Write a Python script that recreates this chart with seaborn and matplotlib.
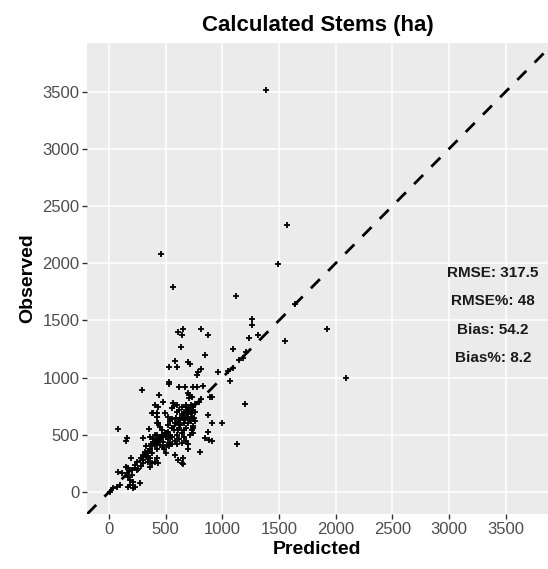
import matplotlib
matplotlib.use("Agg")
import matplotlib.pyplot as plt
import seaborn as sns
import pandas as pd

# ---- data ----
predicted = [
    1385, 1567, 1491, 459, 564, 1120, 1258, 1258, 1235, 1311, 1923, 1555, 1097, 2090, 1067, 1197, 1132,
    1640, 1050, 1090, 1150, 1180, 1210,
    606, 655, 646, 811, 876, 635, 850, 582, 532, 597, 700, 714, 788, 773, 811, 964, 529, 529, 620, 670,
    743, 773, 832, 700, 708, 729, 708, 444, 479, 891, 906, 811, 790, 760, 288, 406, 435, 567, 573, 553,
    382, 391, 420, 494, 426, 435, 876, 906, 994, 420, 450, 523, 553, 729, 744, 714, 876, 847, 885, 906,
    82, 353, 430, 161, 147, 303, 406, 420, 391, 411, 465, 494, 523, 553, 538, 509, 479, 450, 582, 611,
    646, 488, 500, 194, 347, 332, 318, 362, 347, 303, 420, 406, 430, 147, 170, 200, 229, 244, 82, 112,
    156, 170, 200, 185, 214, 185, 229, 273, 170, 214, 9, 38, 68, 97, 376, 362, 700, 803, 655, 650,
    600, 620, 640, 660, 680, 700, 720, 740, 650, 670, 690, 710, 730, 610, 630, 660, 700, 720, 750, 760,
    590, 640, 680, 720, 700, 660, 630, 690, 710, 745, 620, 680, 740, 580, 560, 540, 520, 600, 760, 740,
    360, 390, 420, 450, 480, 500, 520, 540, 560, 580, 600, 620, 640, 660, 680, 700, 600, 640, 560, 500,
    530, 570, 610, 660, 470,
    250, 280, 300, 320, 340, 360, 380, 400, 430, 460, 300, 340, 380, 420, 260, 230, 280, 330, 370, 410,
]
observed = [
    3513, 2336, 1995, 2080, 1792, 1716, 1515, 1462, 1349, 1372, 1425, 1323, 1247, 994, 970, 766, 422,
    1640, 1060, 1085, 1150, 1175, 1220,
    1396, 1425, 1372, 1425, 1372, 1270, 1197, 1145, 1095, 1095, 1139, 1116, 1051, 1022, 1072, 1046, 964, 944, 920, 920,
    920, 920, 926, 868, 848, 833, 819, 848, 789, 828, 833, 815, 790, 770, 892, 760, 746, 775, 752, 732,
    693, 688, 688, 693, 658, 600, 673, 600, 606, 600, 571, 586, 557, 542, 513, 498, 527, 469, 454, 448,
    548, 551, 600, 469, 446, 475, 498, 454, 440, 426, 498, 513, 527, 557, 426, 411, 396, 411, 323, 280,
    251, 373, 338, 295, 338, 309, 323, 295, 265, 280, 295, 265, 251, 221, 207, 192, 207, 192, 172, 169,
    163, 134, 149, 105, 90, 61, 46, 76, 46, 32, 3, 32, 46, 61, 251, 221, 373, 347, 295, 245,
    700, 720, 680, 700, 740, 720, 690, 710, 650, 630, 660, 640, 660, 610, 590, 600, 600, 620, 650, 700,
    650, 740, 760, 760, 680, 670, 650, 700, 730, 740, 560, 560, 580, 600, 640, 620, 660, 760, 620, 560,
    480, 460, 500, 470, 440, 480, 460, 500, 480, 450, 420, 460, 430, 480, 450, 420, 500, 520, 420, 520,
    400, 540, 540, 540, 540,
    260, 300, 320, 350, 360, 380, 400, 430, 450, 480, 250, 300, 340, 380, 200, 240, 230, 400, 420, 410,
]
x_ticks = [0, 500, 1000, 1500, 2000, 2500, 3000, 3500]
y_ticks = [0, 500, 1000, 1500, 2000, 2500, 3000, 3500]
stats_labels = ["RMSE: 317.5", "RMSE%: 48", "Bias: 54.2", "Bias%: 8.2"]
stats_y = [1910, 1670, 1415, 1175]
stats_x = 3385

df = pd.DataFrame({"Predicted": predicted, "Observed": observed})

sns.set_theme(style="darkgrid", rc={
    "axes.facecolor": "#EBEBEB",
    "grid.color": "white",
    "grid.linewidth": 1.1,
    "xtick.bottom": True,
    "ytick.left": True,
})
plt.rcParams["font.family"] = ["Liberation Sans", "DejaVu Sans"]

fig = plt.figure(figsize=(5.48, 5.69), dpi=100)
ax = fig.add_axes([87 / 548, 1 - 514 / 569, (548 - 87) / 548, (514 - 43) / 569])

sns.scatterplot(data=df, x="Predicted", y="Observed", ax=ax, marker="+", s=16,
                color="black", linewidth=1.3, zorder=3)
ax.axline((0, 0), slope=1, color="black", linewidth=2.0,
          linestyle=(0, (4.6, 4.2)), zorder=4)

ax.set_xlim(-194, 3872)
ax.set_ylim(-192, 3924)
ax.set_xticks(x_ticks)
ax.set_yticks(y_ticks)
ax.tick_params(axis="both", which="major", length=3.5, width=1.0, color="#333333",
               labelsize=12, labelcolor="#4D4D4D", pad=2)
for s in ax.spines.values():
    s.set_visible(False)
ax.grid(True, which="major", color="white", linewidth=1.1)

ax.set_xlabel("Predicted", fontsize=14, fontweight="bold", color="black", labelpad=3)
ax.set_ylabel("Observed", fontsize=14, fontweight="bold", color="black", labelpad=4)
ax.set_title("Calculated Stems (ha)", fontsize=16, fontweight="bold", color="black", pad=9)

for lab, yy in zip(stats_labels, stats_y):
    ax.text(stats_x, yy, lab, ha="center", va="center", fontsize=11,
            fontweight="bold", color="#1a1a1a", zorder=5)

fig.savefig("out.png", dpi=100)
